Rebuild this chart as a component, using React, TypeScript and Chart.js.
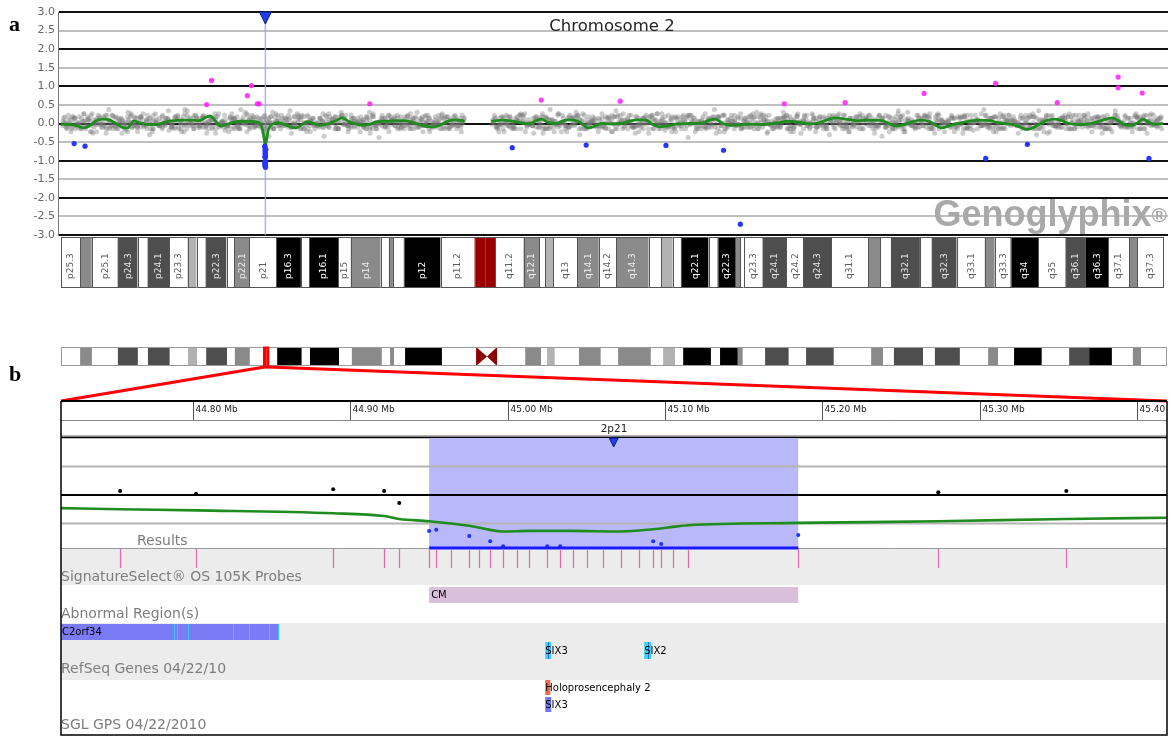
import React, { useEffect, useRef } from "react";
import { Chart, registerables } from "chart.js";

Chart.register(...registerables);

const SANS = '"DejaVu Sans", "Noto Sans", sans-serif';
const HEAVY = '"Liberation Sans", Arial, sans-serif';
const SERIF = '"Liberation Serif", "DejaVu Serif", serif';

/* ---------- chromosome 2 cytobands (Mb) ---------- */
const chromName = "2";
const chromLength = 243.0;
const bandNames = ["p25.3","p25.2","p25.1","p24.3","p24.2","p24.1","p23.3","p23.2","p23.1","p22.3","p22.2","p22.1","p21","p16.3","p16.2","p16.1","p15","p14","p13.3","p13.2","p13.1","p12","p11.2","p11.1","q11.1","q11.2","q12.1","q12.2","q12.3","q13","q14.1","q14.2","q14.3","q21.1","q21.2","q21.3","q22.1","q22.2","q22.3","q23.1","q23.2","q23.3","q24.1","q24.2","q24.3","q31.1","q31.2","q31.3","q32.1","q32.2","q32.3","q33.1","q33.2","q33.3","q34","q35","q36.1","q36.3","q37.1","q37.2","q37.3"];
const bandStart = [0,4.2,6.8,12.5,16.9,19.1,23.9,27.9,29.9,31.9,36.5,38.2,41.5,47.5,52.9,54.7,61.1,63.9,70.5,72.3,73.2,75.6,83.7,91.2,93.6,95.8,102.0,105.5,106.8,108.5,113.8,118.6,122.4,129.6,132.3,134.9,136.7,142.8,144.8,148.7,149.8,150.5,154.7,159.9,163.7,169.8,178.0,180.6,183.0,189.4,192.0,197.5,203.7,205.9,209.4,215.5,221.5,225.9,230.9,235.5,237.3];
const bandEnd = [4.2,6.8,12.5,16.9,19.1,23.9,27.9,29.9,31.9,36.5,38.2,41.5,47.5,52.9,54.7,61.1,63.9,70.5,72.3,73.2,75.6,83.7,91.2,93.6,95.8,102.0,105.5,106.8,108.5,113.8,118.6,122.4,129.6,132.3,134.9,136.7,142.8,144.8,148.7,149.8,150.5,154.7,159.9,163.7,169.8,178.0,180.6,183.0,189.4,192.0,197.5,203.7,205.9,209.4,215.5,221.5,225.9,230.9,235.5,237.3,243.0];
const bandStain = ["gneg","gpos50","gneg","gpos75","gneg","gpos75","gneg","gpos25","gneg","gpos75","gneg","gpos50","gneg","gpos100","gneg","gpos100","gneg","gpos50","gneg","gpos50","gneg","gpos100","gneg","acen","acen","gneg","gpos50","gneg","gpos25","gneg","gpos50","gneg","gpos50","gneg","gpos25","gneg","gpos100","gneg","gpos100","gpos50","gneg","gneg","gpos75","gneg","gpos75","gneg","gpos50","gneg","gpos75","gneg","gpos75","gneg","gpos50","gneg","gpos100","gneg","gpos75","gpos100","gneg","gpos50","gneg"];
const labeledBands = ["p25.3","p25.1","p24.3","p24.1","p23.3","p22.3","p22.1","p21","p16.3","p16.1","p15","p14","p12","p11.2","q11.2","q12.1","q13","q14.1","q14.2","q14.3","q22.1","q22.3","q23.3","q24.1","q24.2","q24.3","q31.1","q32.1","q32.3","q33.1","q33.3","q34","q35","q36.1","q36.3","q37.1","q37.3"];

const stainColor: Record<string, string> = {
  gneg: "#ffffff", gpos25: "#b2b2b2", gpos50: "#8a8a8a", gpos75: "#4e4e4e", gpos100: "#000000", acen: "#990000",
};
const stainText: Record<string, string> = {
  gneg: "#5c5c5c", gpos25: "#5c5c5c", gpos50: "#eeeeee", gpos75: "#e6e6e6", gpos100: "#ffffff", acen: "#ffffff",
};

/* ---------- panel a: whole-chromosome log2 ratios ---------- */
const yTicksA = [3, 2.5, 2, 1.5, 1, 0.5, 0, -0.5, -1, -1.5, -2, -2.5, -3];
const smoothPosA = [0.0,2.0,3.5,5.1,6.4,7.9,9.4,10.8,12.1,13.4,14.7,16.0,17.4,19.1,21.1,22.9,25.1,28.3,30.5,32.1,33.0,34.1,35.2,36.7,38.5,41.1,42.8,43.9,44.5,44.85,45.05,45.3,45.7,46.6,47.9,50.3,51.8,53.1,54.3,55.8,57.1,59.1,60.6,62.0,63.5,64.8,66.6,67.9,69.6,71.8,74.0,75.8,77.6,79.5,81.5,83.3,85.5,87.2,89.0,92.0,94.9,97.5,99.7,101.5,103.3,104.8,105.9,107.4,109.0,110.3,111.8,113.6,115.1,116.2,117.5,119.1,121.3,123.5,125.0,127.2,129.0,130.5,132.0,133.8,136.0,138.6,141.5,143.0,144.3,145.9,147.6,149.6,151.4,154.7,158.0,160.2,162.4,165.2,167.2,169.4,171.1,172.9,175.5,178.2,181.0,182.8,184.3,185.9,187.8,189.8,191.6,193.1,194.2,196.0,198.0,200.1,202.6,204.8,206.3,208.1,210.0,211.6,212.9,214.2,215.7,217.3,219.0,220.6,222.3,224.3,226.1,228.3,230.5,231.8,233.1,234.4,236.2,237.5,238.6,239.7,241.0,243.0];
const smoothValA = [-0.02,-0.03,-0.06,-0.12,-0.05,0.08,0.12,0.09,0.0,-0.10,-0.12,0.07,0.02,-0.03,-0.03,0.04,0.08,0.09,0.08,0.18,0.20,0.06,-0.07,-0.02,0.05,0.06,0.05,0.0,-0.2,-0.45,-0.62,-0.45,-0.18,-0.02,0.02,-0.08,-0.12,-0.03,0.05,0.0,-0.05,0.0,0.08,0.15,0.05,0.0,-0.05,-0.03,0.05,0.06,0.07,0.08,0.03,-0.05,-0.09,-0.06,0.07,0.10,0.06,null,0.06,0.09,0.06,0.02,-0.01,0.08,0.12,0.03,0.0,0.05,0.10,0.08,-0.03,-0.12,-0.08,0.0,-0.01,0.0,0.05,0.10,0.09,-0.03,-0.09,-0.06,-0.01,0.0,0.02,0.09,0.12,0.0,-0.05,-0.04,-0.02,-0.03,0.02,0.06,0.04,-0.01,0.02,0.12,0.15,0.12,0.08,0.09,0.08,-0.02,-0.07,-0.03,0.05,0.09,0.05,-0.06,-0.12,-0.05,0.01,0.06,0.09,0.08,0.03,0.0,-0.03,-0.10,-0.16,-0.12,-0.02,0.08,0.12,0.08,0.0,-0.03,-0.02,0.04,0.12,0.15,0.08,-0.03,-0.05,0.03,0.12,0.05,-0.02,0.0];
const gainPos = [32.1,33.2,41.1,42.0,43.3,43.7,68.1,105.9,123.3,159.5,172.9,190.3,206.1,219.7,233.1,233.1,238.4];
const gainVal = [0.51,1.16,0.75,1.02,0.53,0.53,0.53,0.63,0.60,0.53,0.56,0.81,1.08,0.56,1.25,0.96,0.82];
const lossPos = [2.9,5.3,99.5,115.8,133.4,146.1,149.8,203.9,213.1,239.9];
const lossVal = [-0.54,-0.61,-0.65,-0.58,-0.59,-0.72,-2.71,-0.94,-0.56,-0.94];

// Probe log2 ratios, one letter per probe: 'a' = -0.50 ... 'z' = +0.50 (steps of 0.04)
const cloudStep = 0.04;
const cloudP = [
  "lnpkqmjorlmhqnkpslomjrnlqkmpnhtlomqkjpnrmlqsknojpmrlnkqpmjoulnqmkrpnjloqmsknpjrmlqnkomtpjnrmlkqnopjmslnqkmrpojnlmqrkpnslmojqnkprlm",
  "okmrjnqlpskmnrjolqmgnpslkrmoqjnmrlpkqsnmjolrnqkmptmnklrqojnmpsklqnmrjolnqpkmsrjnomlqkrpnmjsqlnkomprujmnlqkposrlmjnqkprolnmqkrjlpos",
  "qjmnlrkophnqmlskjrnpmokqlrnjmsplkqnmorjlvnmqkrlojpmnslqkrjonpmlqksnrjomlpqnkrsmjolnqkmrpjnsmlqokrnjpmlnqksorjmpnlqkmrsjolnmqkprjon",
  "nkprmlojqtmskqnlrjpoimkrnqlsjpnlmqokrjpwnmslqknrpjmoilnqkmrtjpnomlqkrsjpnvmlqknrpjmoelnqkrmsjpnmolqkrjopnsmlqknrpjmolnqkrmsjpnmlqo",
  "rmhqnjtlogpmkswnljqmhrnkptlfomqjnvlkpmhsqjnlrmokgtnpljqmwnhkrlmpjenoqslmkrtjnhpqmlosknrjupmlqnhkojrmdslnpqkmjrtonlhmqkpsjnrlmokq",
  "msjqkntlhpormgjskqnlutmhrkpqjnlsoimrkhtqnjplsgmqrkonhtjlpmsqkrnhjoutlmqkgrnpjshmlqtoknrjpmhslqnkrgtjmoqhplnkrsjmuqlohnkptrjmslhq",
];
const cloudQ = [
  "mqkrnlpjosnkmlrqtjpomkhnqlrspjmnolkqrjpmsnlqokrmjpnslmqrkojnpmlsqknrjompqlnkmsrjopnqmlkrsjnpmoqlkrnjsmpolnkqrjmpsnolkmqrnjpsomlqnkrjpmosnlkqmrjpnosmlqrkjnpomslnkqrjmponslqkrmjnposlmkqrnjpmsoqlnkrmjpsonlqkmrjpnsmol",
  "pkmrnljqoshmnqkrjlpotnmkqlrjsnpomlkqnrjptmoklnqsrjmopnlkqmrjsnhoplmqkrnjpsomlqnkrjtpomnlkqsrjmopnklqrmjsnpolmkqnrjpsomlqkrnjtpmolnkqsrjmopnlkqmrjsnipolmqkrnjpsomlqnkrjvpomnlkqsrjmopnklqrmjsnpolmkqnrjpsomlq",
  "nlqjmrkpsonmlrkjqpnomslkqrjnpmolqnkrsjmpnolkqmrjspnoilqkrjnspmolnqkrjmsponlqkmrjnpsomlkqrjhpsmolnqkrjmpsonlkqmrjnpsolmqkrjnpsmolnkqrjmpsonlqkmrjnpsolmkqrjnpsmoglnqkrjmpsonlkqmrjnpsolmqkrjnpsmolnkqrjmpson",
  "okmqnrljpsmnqkolrjpmtnlkqmsojrnplkmqhrnopjslmkqnrotjmlpkqnsrmojlnkqpmrsjnolmkqrpnjsomlkqnrjpotmslnqkmrjopnlskqmnrjpomlsqkhnrojpmlkqnsrjmpolnkqrmsjonplmkqrnjspomlqknrjmposnlkqrmjpsonlmqkrnjposmlkqnrjpsomlkq",
  "sjmhrnkotqlmgpnrjwkmlqhsnoftjmrkplnqhvmjoskrlnmgqpjtnkhrmlodsqnjkpmwrlhnqjmtokslrnpgmjqkunlhrmopjsknqlfmrtjnhkposmlqjrenmkpvlhqnjsormkgtlnpqhjmrksnolwqjhmtknprlmqjsnfokrhmlpqjtnmskrlonqgjmhvpnrklsqmjotnpr",
  "qhmsknrjtplomgqkhsnjrmuplkoqhtjnmrskplghqnojtmksrhlpqmnjotkrghslmpqjnkturmhoplqsjkngrmthplqoksnjhmrtpqlgknsojmrhupkqlntjsmhorkqgplnjtsmqhkrolpnjsmtqkhgrlnpojskmqthrnlpjoqksmhtnrglpqj",
];

/* ---------- panel b: 2p21 detail ---------- */
const viewStart = 44.716;
const viewEnd = 45.419;
const rulerTicks = [44.8, 44.9, 45.0, 45.1, 45.2, 45.3, 45.4];
const gridB = [0.5, 0, -0.5];
const normPos = [44.7536, 44.8019, 44.889, 44.9214, 44.931, 45.2736, 45.355];
const normVal = [0.07, 0.02, 0.10, 0.07, -0.14, 0.05, 0.07];
const delPos = [44.950,44.9545,44.964,44.9755,44.9818,44.9888,44.997,45.006,45.0136,45.025,45.0333,45.0416,45.0505,45.0606,45.0721,45.0835,45.0924,45.0975,45.1051,45.1147,45.1846];
const delVal = [-0.63,-0.61,-1.04,-0.72,-1.10,-0.81,-0.90,-1.05,-1.15,-0.90,-0.90,-1.08,-1.03,-1.12,-1.06,-1.02,-0.81,-0.86,-1.18,-1.03,-0.70];
const smoothPosB = [44.716,44.7536,44.8019,44.889,44.9214,44.931,44.950,44.9755,44.997,45.0136,45.04,45.0721,45.0924,45.1051,45.1147,45.1846,45.2736,45.355,45.419];
const smoothValB = [-0.23,-0.25,-0.27,-0.32,-0.37,-0.42,-0.46,-0.54,-0.64,-0.63,-0.63,-0.64,-0.60,-0.56,-0.53,-0.49,-0.46,-0.42,-0.40];
const abnormalName = ["CM"];
const abnormalStart = [44.950];
const abnormalEnd = [45.1846];
const refGeneName = ["C2orf34", "SIX3", "SIX2"];
const refGeneStart = [44.62, 45.0238, 45.0867];
const refGeneEnd = [44.8547, 45.0276, 45.0912];
const refGeneRow = [0, 1, 1];
const c2orf34Exons = [44.7879, 44.7898, 44.7968, 44.8254, 44.8356, 44.8483, 44.8537];
const gpsName = ["Holoprosencephaly 2", "SIX3"];
const gpsStart = [45.0238, 45.0238];
const gpsEnd = [45.0270, 45.0276];
const trackTitles = ["Results", "SignatureSelect\u00AE OS 105K Probes", "Abnormal Region(s)", "RefSeq Genes 04/22/10", "SGL GPS 04/22/2010"];

/* ---------- helpers ---------- */
const zip = (xs: number[], ys: (number | null)[]) => xs.map((x, i) => ({ x, y: ys[i] }));

function decodeCloud(rows: string[], from: number, to: number) {
  const pts: { x: number; y: number }[] = [];
  rows.forEach((row, k) => {
    const step = (to - from) / row.length;
    for (let i = 0; i < row.length; i++) {
      const c = row.charCodeAt(i) - 97;
      if (c < 0 || c > 25) continue;
      pts.push({ x: from + (i + (k + 0.5) / rows.length) * step, y: (c - 12.5) * cloudStep });
    }
  });
  return pts;
}

function downTriangle(ctx: CanvasRenderingContext2D, cx: number, top: number, w: number, h: number, fill: string, stroke: string) {
  ctx.beginPath();
  ctx.moveTo(cx - w / 2, top);
  ctx.lineTo(cx + w / 2, top);
  ctx.lineTo(cx, top + h);
  ctx.closePath();
  ctx.fillStyle = fill;
  ctx.fill();
  ctx.strokeStyle = stroke;
  ctx.lineWidth = 1;
  ctx.stroke();
}

function drawIdeogram(ctx: CanvasRenderingContext2D, scale: any, top: number, h: number, detailed: boolean) {
  for (let i = 0; i < bandNames.length; i++) {
    const x0 = scale.getPixelForValue(bandStart[i]);
    const x1 = scale.getPixelForValue(bandEnd[i]);
    const st = bandStain[i];
    if (st === "acen" && !detailed) {
      ctx.fillStyle = "#8b0000";
      ctx.beginPath();
      if (bandNames[i][0] === "p") {
        ctx.moveTo(x0, top); ctx.lineTo(x1, top + h / 2); ctx.lineTo(x0, top + h);
      } else {
        ctx.moveTo(x1, top); ctx.lineTo(x0, top + h / 2); ctx.lineTo(x1, top + h);
      }
      ctx.closePath();
      ctx.fill();
      continue;
    }
    ctx.fillStyle = stainColor[st];
    ctx.fillRect(x0, top, x1 - x0, h);
    if (detailed) {
      ctx.strokeStyle = "#555";
      ctx.lineWidth = 1;
      ctx.strokeRect(Math.round(x0) + 0.5, top + 0.5, Math.round(x1) - Math.round(x0), h - 1);
      if (labeledBands.includes(bandNames[i])) {
        ctx.save();
        ctx.translate((x0 + x1) / 2, top + h - 9);
        ctx.rotate(-Math.PI / 2);
        ctx.font = `9px ${SANS}`;
        ctx.fillStyle = stainText[st];
        ctx.textAlign = "left";
        ctx.textBaseline = "middle";
        ctx.fillText(bandNames[i], 0, 0.5);
        ctx.restore();
      }
    }
  }
  if (!detailed) {
    const l = scale.getPixelForValue(0);
    const r = scale.getPixelForValue(chromLength);
    ctx.strokeStyle = "#9a9a9a";
    ctx.lineWidth = 1;
    ctx.beginPath();
    ctx.moveTo(l, top + 0.5); ctx.lineTo(r, top + 0.5);
    ctx.moveTo(l, top + h - 0.5); ctx.lineTo(r, top + h - 0.5);
    ctx.moveTo(l + 0.5, top); ctx.lineTo(l + 0.5, top + h);
    ctx.moveTo(r - 0.5, top); ctx.lineTo(r - 0.5, top + h);
    ctx.stroke();
  }
}

const regionMid = (abnormalStart[0] + abnormalEnd[0]) / 2;

/* ---------- panel a decorations ---------- */
const IDEO_A_TOP = 237;
const IDEO_A_H = 51;

const panelAPlugin = {
  id: "panelA",
  beforeDatasetsDraw(chart: any) {
    const { ctx, chartArea: ca, scales } = chart;
    ctx.save();
    // watermark
    ctx.fillStyle = "#a9a9a9";
    ctx.textAlign = "right";
    ctx.textBaseline = "alphabetic";
    ctx.font = `bold 21px ${HEAVY}`;
    const rw = ctx.measureText("\u00AE").width;
    ctx.fillText("\u00AE", ca.right - 1, ca.bottom - 13);
    ctx.font = `bold 36px ${HEAVY}`;
    ctx.fillText("Genoglyphix", ca.right - 1 - rw, ca.bottom - 9);
    // position of the 2p21 call
    const mx = scales.x.getPixelForValue(regionMid);
    ctx.strokeStyle = "rgba(150,160,255,0.8)";
    ctx.lineWidth = 1.5;
    ctx.beginPath();
    ctx.moveTo(mx, ca.top);
    ctx.lineTo(mx, ca.bottom);
    ctx.stroke();
    ctx.restore();
  },
  afterDatasetsDraw(chart: any) {
    const { ctx, chartArea: ca, scales } = chart;
    ctx.save();
    const x = scales.x;
    const cx = (x.getPixelForValue(0) + x.getPixelForValue(chromLength)) / 2;
    ctx.font = `16.5px ${SANS}`;
    ctx.fillStyle = "#222";
    ctx.textAlign = "center";
    ctx.textBaseline = "alphabetic";
    ctx.fillText(`Chromosome ${chromName}`, cx, ca.top + 19);
    downTriangle(ctx, x.getPixelForValue(regionMid), ca.top, 12, 12, "#1f3fe6", "#0b1b8a");
    ctx.restore();
  },
  afterDraw(chart: any) {
    const { ctx, scales } = chart;
    ctx.save();
    drawIdeogram(ctx, scales.x, IDEO_A_TOP, IDEO_A_H, true);
    ctx.font = `bold 22px ${SERIF}`;
    ctx.fillStyle = "#000";
    ctx.textAlign = "left";
    ctx.textBaseline = "alphabetic";
    ctx.fillText("a", 9, 31);
    ctx.restore();
  },
};

/* ---------- panel b decorations (canvas-local y) ---------- */
const IDEO_B_TOP = 7;
const IDEO_B_H = 19;
const RULER_TOP = 61;
const RULER_BOTTOM = 80;
const ROW_BOTTOM = 96;
const PROBE_TOP = 209;
const PROBE_BOTTOM = 245;
const ABN_BOTTOM = 283;
const REFSEQ_BOTTOM = 340;
const PANEL_BOTTOM = 395;

const panelBPlugin = {
  id: "panelB",
  beforeDraw(chart: any) {
    const { ctx, chartArea: ca, scales } = chart;
    const { x, xc, y } = scales;
    const L = ca.left, R = ca.right, W = R - L;
    ctx.save();

    // track backgrounds
    ctx.fillStyle = "#ececec";
    ctx.fillRect(L, PROBE_TOP, W, PROBE_BOTTOM - PROBE_TOP);
    ctx.fillRect(L, ABN_BOTTOM, W, REFSEQ_BOTTOM - ABN_BOTTOM);

    // chromosome overview with zoom bracket
    drawIdeogram(ctx, xc, IDEO_B_TOP, IDEO_B_H, false);
    const z0 = xc.getPixelForValue(viewStart);
    const z1 = xc.getPixelForValue(viewEnd);
    ctx.strokeStyle = "#ff0000";
    ctx.lineWidth = 3;
    ctx.strokeRect(z0, IDEO_B_TOP + 1, z1 - z0, IDEO_B_H);
    ctx.beginPath();
    ctx.moveTo(z0, IDEO_B_TOP + IDEO_B_H + 1);
    ctx.lineTo(L, RULER_TOP);
    ctx.moveTo(z1, IDEO_B_TOP + IDEO_B_H + 1);
    ctx.lineTo(R, RULER_TOP);
    ctx.stroke();

    // ruler
    ctx.save();
    ctx.beginPath();
    ctx.rect(L, RULER_TOP, W, RULER_BOTTOM - RULER_TOP);
    ctx.clip();
    ctx.font = `9px ${SANS}`;
    ctx.fillStyle = "#222";
    ctx.textAlign = "left";
    ctx.textBaseline = "middle";
    ctx.strokeStyle = "#555";
    ctx.lineWidth = 1;
    rulerTicks.forEach((t) => {
      const tx = Math.round(x.getPixelForValue(t)) + 0.5;
      ctx.beginPath();
      ctx.moveTo(tx, RULER_TOP);
      ctx.lineTo(tx, RULER_BOTTOM);
      ctx.stroke();
      ctx.fillText(`${t.toFixed(2)} Mb`, tx + 2, RULER_TOP + 9);
    });
    ctx.restore();
    ctx.strokeStyle = "#000";
    ctx.lineWidth = 2;
    ctx.beginPath();
    ctx.moveTo(L, RULER_TOP);
    ctx.lineTo(R, RULER_TOP);
    ctx.stroke();
    ctx.strokeStyle = "#888";
    ctx.lineWidth = 1;
    ctx.beginPath();
    ctx.moveTo(L, RULER_BOTTOM + 0.5);
    ctx.lineTo(R, RULER_BOTTOM + 0.5);
    ctx.stroke();

    // cytoband name row
    const mid = (viewStart + viewEnd) / 2;
    const bi = bandNames.findIndex((_, i) => bandStart[i] <= mid && mid < bandEnd[i]);
    ctx.font = `10.5px ${SANS}`;
    ctx.fillStyle = "#222";
    ctx.textAlign = "center";
    ctx.textBaseline = "middle";
    ctx.fillText(`${chromName}${bandNames[bi]}`, x.getPixelForValue(mid), (RULER_BOTTOM + ROW_BOTTOM) / 2 + 1);
    ctx.strokeStyle = "#9a9a9a";
    ctx.lineWidth = 1.5;
    ctx.beginPath();
    ctx.moveTo(L, ROW_BOTTOM);
    ctx.lineTo(R, ROW_BOTTOM);
    ctx.stroke();
    ctx.strokeStyle = "#000";
    ctx.beginPath();
    ctx.moveTo(L, ca.top - 0.5);
    ctx.lineTo(R, ca.top - 0.5);
    ctx.stroke();

    // called region shading
    const a0 = x.getPixelForValue(abnormalStart[0]);
    const a1 = x.getPixelForValue(abnormalEnd[0]);
    ctx.fillStyle = "#b8b8fa";
    ctx.fillRect(a0, ca.top, a1 - a0, ca.bottom - ca.top);

    // log-ratio grid
    ctx.lineWidth = 2;
    gridB.forEach((v) => {
      ctx.strokeStyle = v === 0 ? "#000" : "#b4b4b4";
      const gy = y.getPixelForValue(v);
      ctx.beginPath();
      ctx.moveTo(L, gy);
      ctx.lineTo(R, gy);
      ctx.stroke();
    });
    ctx.strokeStyle = "#999";
    ctx.lineWidth = 1;
    ctx.beginPath();
    ctx.moveTo(L, ca.bottom + 0.5);
    ctx.lineTo(R, ca.bottom + 0.5);
    ctx.stroke();

    ctx.font = `14px ${SANS}`;
    ctx.fillStyle = "#7d7d7d";
    ctx.textAlign = "left";
    ctx.textBaseline = "middle";
    ctx.fillText(trackTitles[0], 137, ca.bottom - 7);
    ctx.restore();
  },
  afterDatasetsDraw(chart: any) {
    const { ctx, chartArea: ca, scales } = chart;
    const { x } = scales;
    const L = ca.left, R = ca.right, W = R - L;
    ctx.save();

    // called region bar + marker
    const a0 = x.getPixelForValue(abnormalStart[0]);
    const a1 = x.getPixelForValue(abnormalEnd[0]);
    ctx.strokeStyle = "#1a1aff";
    ctx.lineWidth = 3;
    ctx.beginPath();
    ctx.moveTo(a0, ca.bottom);
    ctx.lineTo(a1, ca.bottom);
    ctx.stroke();
    downTriangle(ctx, x.getPixelForValue(regionMid), ca.top, 9, 9, "#1f3fe6", "#0b1b8a");

    // probe track
    ctx.strokeStyle = "#e06ab0";
    ctx.lineWidth = 1.2;
    [...normPos, ...delPos].forEach((p) => {
      const px = Math.round(x.getPixelForValue(p)) + 0.5;
      ctx.beginPath();
      ctx.moveTo(px, PROBE_TOP);
      ctx.lineTo(px, PROBE_TOP + 19);
      ctx.stroke();
    });

    const title = (t: string, ty: number) => {
      ctx.font = `14px ${SANS}`;
      ctx.fillStyle = "#7d7d7d";
      ctx.textAlign = "left";
      ctx.textBaseline = "middle";
      ctx.fillText(t, L, ty);
    };
    const small = (t: string, tx: number, ty: number) => {
      ctx.font = `10px ${SANS}`;
      ctx.fillStyle = "#000";
      ctx.textAlign = "left";
      ctx.textBaseline = "middle";
      ctx.fillText(t, tx, ty);
    };
    title(trackTitles[1], PROBE_BOTTOM - 8);

    // abnormal region track
    abnormalName.forEach((n, i) => {
      const b0 = x.getPixelForValue(abnormalStart[i]);
      const b1 = x.getPixelForValue(abnormalEnd[i]);
      ctx.fillStyle = "#dabfda";
      ctx.fillRect(b0, PROBE_BOTTOM + 2, b1 - b0, 16);
      small(n, b0 + 2, PROBE_BOTTOM + 10);
    });
    title(trackTitles[2], ABN_BOTTOM - 9);

    // RefSeq genes
    ctx.save();
    ctx.beginPath();
    ctx.rect(L, ABN_BOTTOM, W, REFSEQ_BOTTOM - ABN_BOTTOM);
    ctx.clip();
    refGeneName.forEach((n, i) => {
      const g0 = Math.max(x.getPixelForValue(refGeneStart[i]), L);
      const g1 = x.getPixelForValue(refGeneEnd[i]);
      const gy = ABN_BOTTOM + 1 + refGeneRow[i] * 18;
      if (refGeneRow[i] === 0) {
        ctx.fillStyle = "#7b7bf5";
        ctx.fillRect(g0, gy, g1 - g0, 16);
        ctx.strokeStyle = "#38c8ff";
        ctx.lineWidth = 1;
        c2orf34Exons.forEach((e) => {
          const ex = Math.round(x.getPixelForValue(e)) + 0.5;
          ctx.beginPath();
          ctx.moveTo(ex, gy);
          ctx.lineTo(ex, gy + 16);
          ctx.stroke();
        });
        small(n, g0 + 1, gy + 8);
      } else {
        ctx.fillStyle = "#34d4f6";
        ctx.fillRect(g0, gy, g1 - g0, 17);
        ctx.strokeStyle = "#3a6fd8";
        ctx.lineWidth = 1;
        const gm = Math.round((g0 + g1) / 2) + 0.5;
        ctx.beginPath();
        ctx.moveTo(gm, gy);
        ctx.lineTo(gm, gy + 17);
        ctx.stroke();
        small(n, g0, gy + 9);
      }
    });
    ctx.restore();
    title(trackTitles[3], REFSEQ_BOTTOM - 11);

    // SGL GPS
    gpsName.forEach((n, i) => {
      const g0 = x.getPixelForValue(gpsStart[i]);
      const g1 = x.getPixelForValue(gpsEnd[i]);
      const gy = REFSEQ_BOTTOM + i * 17;
      ctx.fillStyle = i === 0 ? "#f2694d" : "#7575ef";
      ctx.fillRect(g0, gy, g1 - g0, 15);
      small(n, g0, gy + 8);
    });
    title(trackTitles[4], PANEL_BOTTOM - 10);

    // panel frame
    ctx.strokeStyle = "#000";
    ctx.lineWidth = 1.5;
    ctx.beginPath();
    ctx.moveTo(L, RULER_TOP);
    ctx.lineTo(L, PANEL_BOTTOM);
    ctx.lineTo(R, PANEL_BOTTOM);
    ctx.lineTo(R, RULER_TOP);
    ctx.stroke();

    ctx.font = `bold 22px ${SERIF}`;
    ctx.fillStyle = "#000";
    ctx.fillText("b", 9, 35);
    ctx.restore();
  },
};

export default function App() {
  const refA = useRef<HTMLCanvasElement>(null);
  const refB = useRef<HTMLCanvasElement>(null);

  useEffect(() => {
    const cloud = [...decodeCloud(cloudP, 0.3, 89.0), ...decodeCloud(cloudQ, 95.0, 242.8)];
    const chartA = new Chart(refA.current as HTMLCanvasElement, {
      type: "scatter",
      data: {
        datasets: [
          { label: "gain", data: zip(gainPos, gainVal), backgroundColor: "rgba(255,40,255,0.9)", borderWidth: 0, pointRadius: 2.6, order: 0 },
          { label: "loss", data: [...zip(lossPos, lossVal), ...zip(delPos, delVal)], backgroundColor: "#2636ff", borderWidth: 0, pointRadius: 2.6, order: 1 },
          { type: "line", label: "smoothed", data: zip(smoothPosA, smoothValA), borderColor: "#1e8c1e", borderWidth: 2.8, pointRadius: 0, showLine: true, spanGaps: false, cubicInterpolationMode: "monotone", order: 2 } as any,
          { label: "probes", data: cloud, backgroundColor: "rgba(120,120,120,0.38)", borderWidth: 0, pointRadius: 2.5, order: 3 },
        ],
      },
      options: {
        animation: false,
        responsive: false,
        events: [],
        layout: { padding: { left: 0, right: 0, top: 12, bottom: 65 } },
        plugins: { legend: { display: false }, tooltip: { enabled: false } },
        scales: {
          x: { type: "linear", min: -0.66, max: 244.1, display: false },
          y: {
            type: "linear",
            min: -3,
            max: 3,
            afterFit: (s: any) => { s.width = 58; },
            afterBuildTicks: (s: any) => { s.ticks = yTicksA.map((v) => ({ value: v })); },
            ticks: { callback: (v: any) => Number(v).toFixed(1), font: { family: SANS, size: 11 }, color: "#666", padding: 3 },
            grid: {
              drawTicks: false,
              lineWidth: 2,
              color: (c: any) => (c.tick && Math.abs(c.tick.value % 1) < 1e-6 ? "#111" : "#bfbfbf"),
            },
            border: { display: true, color: "#777", width: 1 },
          },
        },
      } as any,
      plugins: [panelAPlugin],
    });

    const chartB = new Chart(refB.current as HTMLCanvasElement, {
      type: "scatter",
      data: {
        datasets: [
          { label: "deleted", data: zip(delPos, delVal), backgroundColor: "#2030ff", borderWidth: 0, pointRadius: 2, order: 0, clip: { left: 3, right: 3, top: 2, bottom: 2 } } as any,
          { label: "normal", data: zip(normPos, normVal), backgroundColor: "#000", borderWidth: 0, pointRadius: 2, order: 1 },
          { type: "line", label: "smoothed", data: zip(smoothPosB, smoothValB), borderColor: "#1e8c1e", borderWidth: 2.6, pointRadius: 0, showLine: true, cubicInterpolationMode: "monotone", order: 2 } as any,
        ],
      },
      options: {
        animation: false,
        responsive: false,
        events: [],
        layout: { padding: { left: 61, right: 5, top: 98, bottom: 188 } },
        plugins: { legend: { display: false }, tooltip: { enabled: false } },
        scales: {
          x: { type: "linear", min: viewStart, max: viewEnd, display: false },
          xc: { type: "linear", axis: "x", min: 0, max: chromLength, display: false },
          y: { type: "linear", min: -0.93, max: 1.0, display: false },
        },
      } as any,
      plugins: [panelBPlugin],
    });

    return () => {
      chartA.destroy();
      chartB.destroy();
    };
  }, []);

  return (
    <div style={{ position: "absolute", left: 0, top: 0, width: 1172, height: 736, background: "#fff", overflow: "hidden" }}>
      <canvas ref={refA} width={1172} height={300} style={{ position: "absolute", left: 0, top: 0, width: 1172, height: 300 }} />
      <canvas ref={refB} width={1172} height={396} style={{ position: "absolute", left: 0, top: 340, width: 1172, height: 396 }} />
    </div>
  );
}
